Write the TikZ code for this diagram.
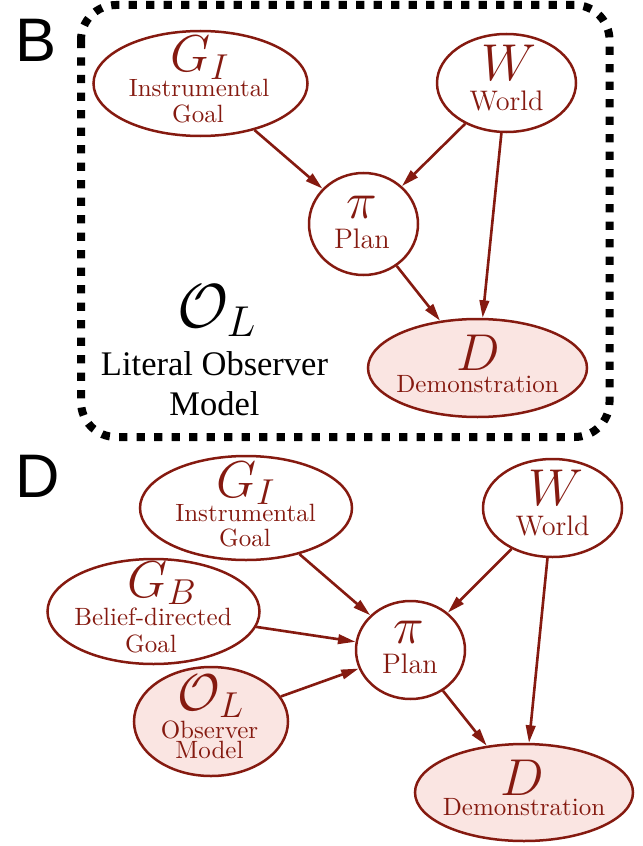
\documentclass[tikz,border=0pt]{standalone}
\usepackage{fontspec}
\usetikzlibrary{shapes.geometric,arrows.meta}
\newfontfamily\serifplain{Liberation Serif}
\newfontfamily\panelfont{Liberation Sans}
\definecolor{dred}{RGB}{133,26,16}
\definecolor{pinkfill}{RGB}{250,229,226}
\tikzset{
  ell/.style={ellipse, draw=dred, line width=1pt, inner sep=0pt},
  obs/.style={ell, fill=pinkfill},
  lbl/.style={text=dred, inner sep=0pt, anchor=base, font=\fontsize{10}{12}\selectfont},
  lblw/.style={lbl, font=\fontsize{11.3}{13}\selectfont},
  sym/.style={text=dred, inner sep=0pt, anchor=base, font=\fontsize{20.74}{25}\selectfont},
  edge/.style={draw=dred, line width=1.05pt, -{Triangle[length=7pt,width=3.8pt]}},
  panel/.style={inner sep=0pt, anchor=base west, font=\panelfont\fontsize{24.6}{28}\selectfont},
  blackline/.style={inner sep=0pt, anchor=base, font=\serifplain\fontsize{13.8}{16}\selectfont}
}
\begin{document}
\begin{tikzpicture}[x=0.4pt,y=-0.4pt]
\useasboundingbox (0,0) rectangle (642,846);

% ---------- panel B ----------
\node[panel] (labB) at (15,62) {B};
\draw[line width=3.2pt, dash pattern=on 3.3pt off 3.7pt, rounded corners=14pt]
  (81,5) rectangle (609.5,437);

\node[ell, minimum width=85.6pt, minimum height=42pt] (giB) at (200.5,83.5) {};
\node[sym] (giBs) at (200,72) {$G_I$};
\node[lbl] (giBt1) at (199,97) {Instrumental};
\node[lbl] (giBt2) at (198,122) {Goal};

\node[ell, minimum width=55.6pt, minimum height=39.2pt] (wB) at (506.5,83) {};
\node[sym] (wBs) at (509,81) {$W$};
\node[lblw] (wBt) at (506.5,110) {World};

\node[ell, minimum width=43.6pt, minimum height=40.8pt] (piB) at (363.5,224) {};
\node[sym, font=\fontsize{22}{26}\selectfont] (piBs) at (362,218) {$\pi$};
\node[lblw] (piBt) at (362,248) {Plan};

\node[obs, minimum width=87.6pt, minimum height=39.2pt] (dB) at (477.5,368) {};
\node[sym] (dBs) at (478,370) {$D$};
\node[lbl] (dBt) at (477.5,392) {Demonstration};

\node[inner sep=0pt, anchor=base, font=\fontsize{26}{30}\selectfont] (olB) at (217,327) {$\mathcal{O}_L$};
\node[blackline] (olBt1) at (214.5,375) {Literal Observer};
\node[blackline] (olBt2) at (214.5,415) {Model};

\draw[edge] (giB) -- (piB);
\draw[edge] (wB) -- (piB);
\draw[edge] (wB) -- (dB);
\draw[edge] (piB) -- (dB);

% ---------- panel D ----------
\node[panel] (labD) at (15,497) {D};

\node[ell, minimum width=84.8pt, minimum height=41.6pt] (giD) at (246,508) {};
\node[sym] (giDs) at (246,497) {$G_I$};
\node[lbl] (giDt1) at (245.5,521) {Instrumental};
\node[lbl] (giDt2) at (245,546) {Goal};

\node[ell, minimum width=84.8pt, minimum height=42pt] (gbD) at (153.5,611.5) {};
\node[sym] (gbDs) at (162,597) {$G_B$};
\node[lbl] (gbDt1) at (153,625) {Belief-directed};
\node[lbl] (gbDt2) at (151,652) {Goal};

\node[obs, minimum width=61.6pt, minimum height=43.6pt] (olD) at (211,721.5) {};
\node[sym] (olDs) at (211,710) {$\mathcal{O}_L$};
\node[lbl] (olDt1) at (209.5,738) {Observer};
\node[lbl] (olDt2) at (209.5,758) {Model};

\node[ell, minimum width=55.6pt, minimum height=39.2pt] (wD) at (552.5,508) {};
\node[sym] (wDs) at (556,505) {$W$};
\node[lblw] (wDt) at (552.5,535) {World};

\node[ell, minimum width=43.6pt, minimum height=39.2pt] (piD) at (410.5,650) {};
\node[sym, font=\fontsize{22}{26}\selectfont] (piDs) at (408.5,643) {$\pi$};
\node[lblw] (piDt) at (410,673) {Plan};

\node[obs, minimum width=87.2pt, minimum height=38.8pt] (dD) at (524,792.5) {};
\node[sym] (dDs) at (522.5,795) {$D$};
\node[lbl] (dDt) at (524,815) {Demonstration};

\draw[edge] (giD) -- (piD);
\draw[edge] (gbD) -- (piD);
\draw[edge] (olD) -- (piD);
\draw[edge] (wD) -- (piD);
\draw[edge] (wD) -- (dD);
\draw[edge] (piD) -- (dD);
\end{tikzpicture}
\end{document}
